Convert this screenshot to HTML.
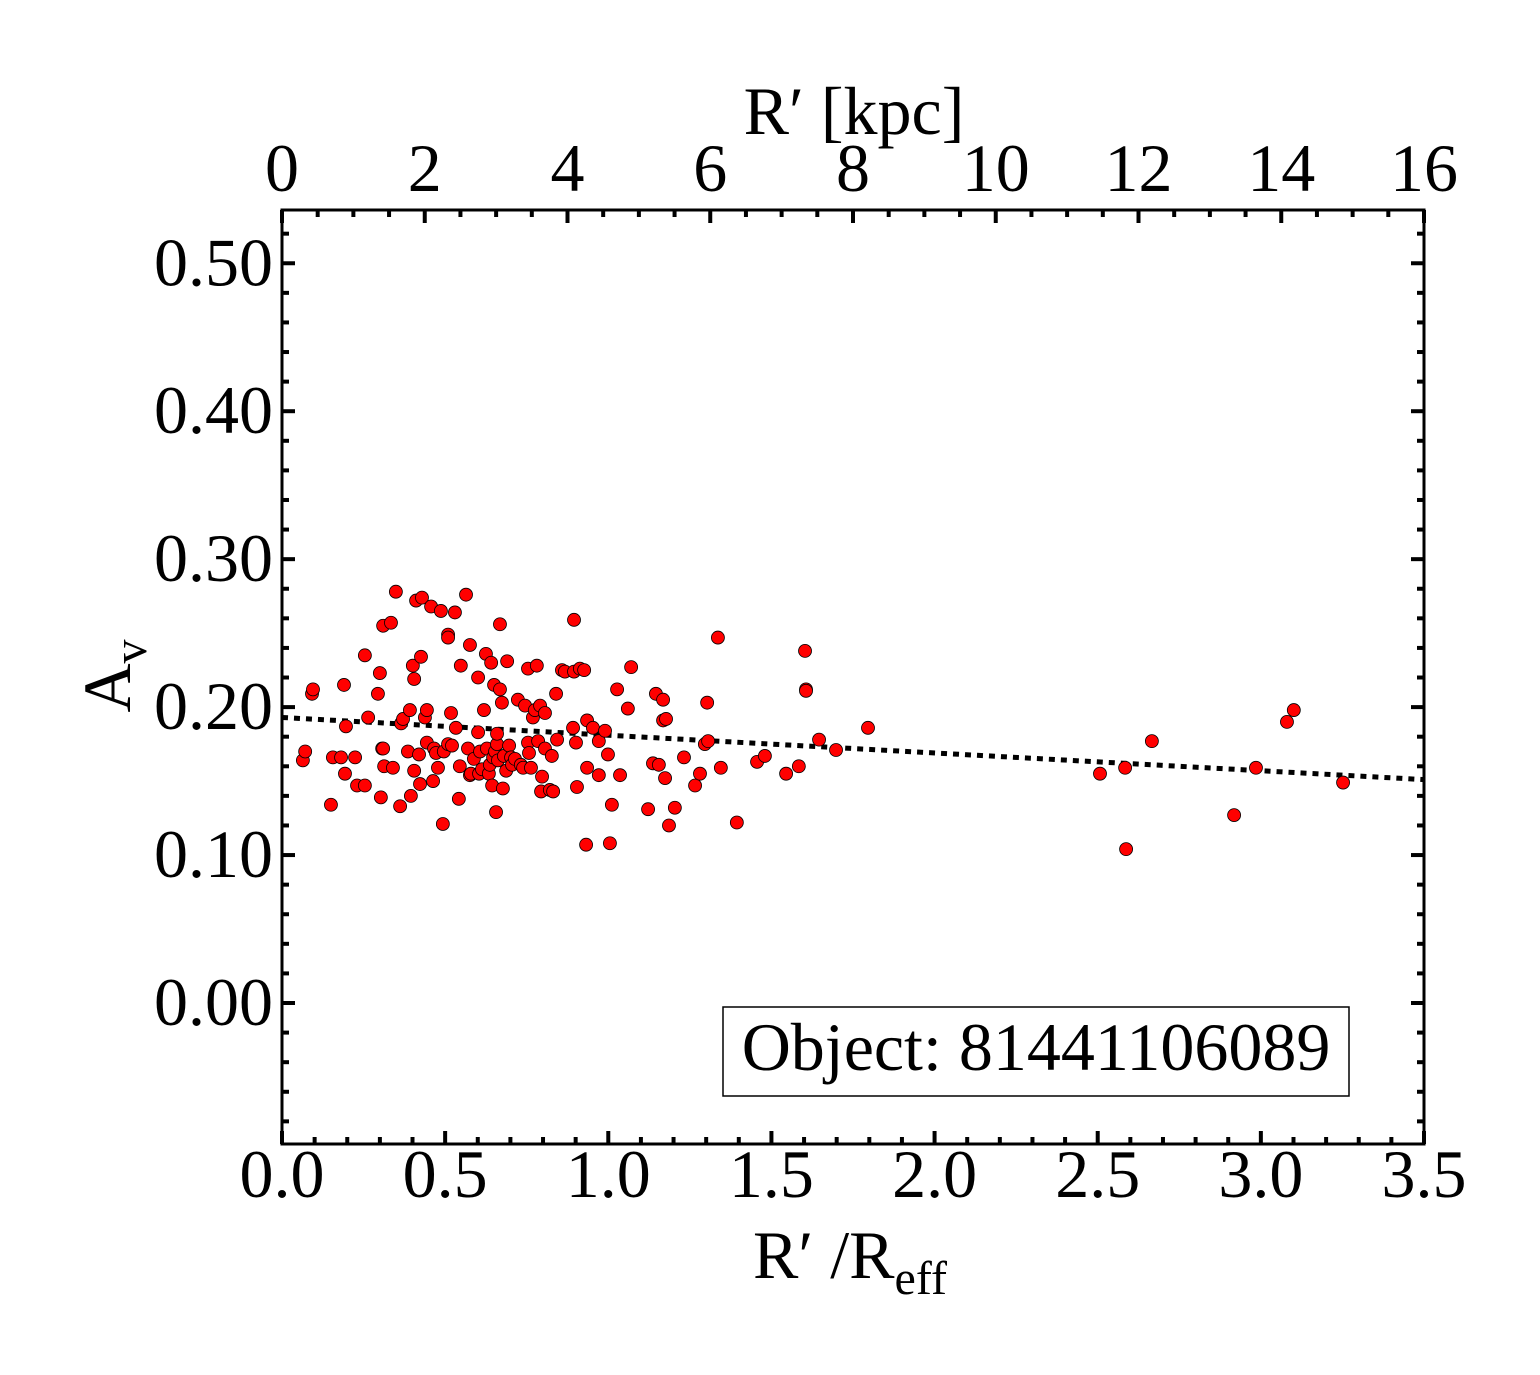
<!DOCTYPE html>
<html><head><meta charset="utf-8"><style>
html,body{margin:0;padding:0;background:#fff;}
svg{display:block;font-family:"Liberation Serif",serif;}
</style></head><body>
<svg id="chart" width="1540" height="1375" viewBox="0 0 1540 1375"></svg>
<script>
const xVals=[.064,.071,.092,.095,.150,.156,.181,.190,.193,.196,.224,.230,.254,.254,.264,.294,.300,.303,.307,.310,.310,.313,.334,.340,.349,.362,.365,.371,.386,.392,.395,.401,.405,.405,.411,.420,.423,.426,.429,.438,.444,.444,.457,.463,.466,.472,.478,.487,.493,.496,.509,.509,.509,.518,.521,.530,.533,.542,.545,.548,.564,.570,.576,.576,.579,.588,.601,.601,.604,.607,.613,.619,.625,.628,.634,.637,.641,.644,.647,.650,.653,.656,.659,.659,.662,.668,.668,.674,.677,.680,.687,.690,.696,.702,.705,.714,.723,.732,.739,.745,.754,.754,.757,.763,.769,.775,.781,.785,.791,.794,.797,.806,.806,.821,.831,.827,.840,.843,.858,.867,.892,.895,.895,.901,.904,.913,.926,.932,.935,.935,.953,.971,.971,.990,.999,1.005,1.011,1.027,1.036,1.060,1.070,1.122,1.137,1.146,1.155,1.168,1.168,1.174,1.177,1.186,1.204,1.232,1.266,1.281,1.296,1.303,1.306,1.336,1.345,1.394,1.456,1.480,1.545,1.584,1.603,1.606,1.606,1.646,1.698,1.796,2.507,2.584,2.587,2.666,2.918,2.985,3.080,3.101,3.252];
const yVals=[.164,.170,.209,.212,.134,.166,.166,.215,.155,.187,.166,.147,.147,.235,.193,.209,.223,.139,.172,.255,.172,.160,.257,.159,.278,.133,.189,.192,.170,.198,.140,.228,.157,.219,.272,.168,.148,.234,.274,.193,.198,.176,.268,.150,.172,.169,.159,.265,.121,.170,.249,.247,.175,.196,.174,.264,.186,.138,.160,.228,.276,.172,.242,.154,.155,.165,.183,.220,.155,.170,.158,.198,.236,.172,.155,.161,.230,.147,.166,.215,.170,.129,.175,.182,.164,.256,.212,.203,.145,.167,.157,.231,.174,.166,.161,.165,.205,.161,.159,.201,.226,.176,.169,.159,.193,.198,.228,.177,.201,.143,.153,.196,.172,.144,.143,.167,.209,.178,.225,.224,.186,.224,.259,.176,.146,.226,.225,.107,.191,.159,.186,.177,.154,.184,.168,.108,.134,.212,.154,.199,.227,.131,.162,.209,.161,.191,.205,.152,.192,.120,.132,.166,.147,.155,.175,.203,.177,.247,.159,.122,.163,.167,.155,.160,.238,.212,.211,.178,.171,.186,.155,.159,.104,.177,.127,.159,.190,.198,.149];
const fitX=[0,3.5];
const fitY=[0.193,0.151];
const xTicks=[0,0.5,1.0,1.5,2.0,2.5,3.0,3.5];
const xTickLabels=["0.0","0.5","1.0","1.5","2.0","2.5","3.0","3.5"];
const yTicks=[0,0.1,0.2,0.3,0.4,0.5];
const yTickLabels=["0.00","0.10","0.20","0.30","0.40","0.50"];
const topTicks=[0,2,4,6,8,10,12,14,16];
const topTickLabels=["0","2","4","6","8","10","12","14","16"];

const L=282,R=1424,T=210,B=1144;
const X0=0,X1=3.5,Y0=-0.0953,Y1=0.536,K0=0,K1=16;
const sx=v=>L+(v-X0)/(X1-X0)*(R-L);
const sy=v=>B-(v-Y0)/(Y1-Y0)*(B-T);
const sk=v=>L+(v-K0)/(K1-K0)*(R-L);
const svg=document.getElementById('chart');
const NS='http://www.w3.org/2000/svg';
function mk(tag,attrs,parent){const e=document.createElementNS(NS,tag);for(const k in attrs)e.setAttribute(k,attrs[k]);(parent||svg).appendChild(e);return e;}

const fit=mk('line',{x1:sx(fitX[0]),y1:sy(fitY[0]),x2:sx(fitX[1]),y2:sy(fitY[1]),stroke:'#000','stroke-width':5,'stroke-dasharray':'6,6'});



const pg=mk('g',{});


for(let i=0;i<xVals.length;i++){
  const c=mk('circle',{cx:sx(xVals[i]),cy:sy(yVals[i]),r:6.5,fill:'#ff0000',stroke:'#000','stroke-width':0.8},pg);
  
  
}

const fr=mk('rect',{x:L,y:T,width:R-L,height:B-T,fill:'none',stroke:'#000','stroke-width':3});



const tg=mk('g',{stroke:'#000','stroke-width':4});


for(let v=0;v<=3.5001;v+=0.1){
  const maj=Math.abs(v*2-Math.round(v*2))<1e-6;
  const len=maj?13:7;const x=sx(v);
  mk('line',{x1:x,y1:B,x2:x,y2:B-len},tg);
}
for(let v=0;v<=16.001;v+=0.5){
  const maj=Math.abs(v/2-Math.round(v/2))<1e-6;
  const len=maj?13:7;const x=sk(v);
  mk('line',{x1:x,y1:T,x2:x,y2:T+len},tg);
}
for(let v=-0.08;v<=0.5301;v+=0.02){
  const maj=Math.abs(v*10-Math.round(v*10))<1e-6;
  const len=maj?13:7;const y=sy(v);
  mk('line',{x1:L,y1:y,x2:L+len,y2:y},tg);
  mk('line',{x1:R,y1:y,x2:R-len,y2:y},tg);
}
xTicks.forEach((v,i)=>{const t=mk('text',{x:sx(v),y:1197,'font-size':68,'text-anchor':'middle'});t.textContent=xTickLabels[i];
 });
yTicks.forEach((v,i)=>{const t=mk('text',{x:273,y:sy(v)+22,'font-size':68,'text-anchor':'end'});t.textContent=yTickLabels[i];
 });
topTicks.forEach((v,i)=>{const t=mk('text',{x:sk(v),y:191,'font-size':68,'text-anchor':'middle'});t.textContent=topTickLabels[i];
 });
</script>
<svg width="1540" height="1375" style="position:absolute;left:0;top:0;font-family:'Liberation Serif',serif">
<text x="850" y="1278" font-size="68" text-anchor="middle">R′ /R<tspan font-size="48" dy="16">eff</tspan></text>
<text x="854" y="134" font-size="68" text-anchor="middle">R′ [kpc]</text>
<text transform="translate(130,676) rotate(-90)" font-size="68" text-anchor="middle">A<tspan font-size="48" dy="16">v</tspan></text>
<rect x="723" y="1007" width="626" height="89" fill="#fff" stroke="#000" stroke-width="1.5"/>
<text x="1036" y="1070" font-size="68" text-anchor="middle">Object: 81441106089</text>
</svg>
</body></html>
